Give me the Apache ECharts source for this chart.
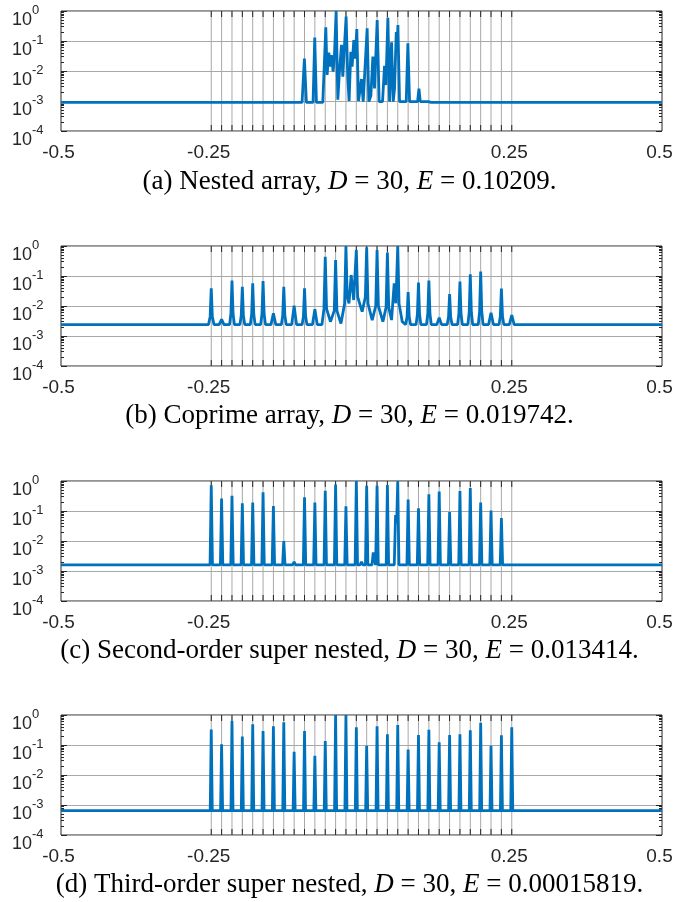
<!DOCTYPE html>
<html><head><meta charset="utf-8">
<script src="https://cdn.jsdelivr.net/npm/echarts@6/dist/echarts.min.js"></script>
<style>html,body{margin:0;padding:0;background:#fff}#c{width:699px;height:902px}</style>
</head><body><div id="c"></div><script>
// ---- data ----
const sourceDoas = [-0.25, -0.23276, -0.21552, -0.19828, -0.18103, -0.16379, -0.14655, -0.12931, -0.11207, -0.09483,
  -0.07759, -0.06034, -0.0431, -0.02586, -0.00862, 0.00862, 0.02586, 0.0431, 0.06034, 0.07759,
  0.09483, 0.11207, 0.12931, 0.14655, 0.16379, 0.18103, 0.19828, 0.21552, 0.23276, 0.25];

const xTickValues = [-0.5, -0.25, 0.25, 0.5];
const xTickLabels = ['-0.5', '-0.25', '0.25', '0.5'];

const panelLetters = ['(a)', '(b)', '(c)', '(d)'];
const arrayNames = ['Nested array', 'Coprime array', 'Second-order super nested', 'Third-order super nested'];
const numSources = [30, 30, 30, 30];
const errorValues = ['0.10209', '0.019742', '0.013414', '0.00015819'];

// (a) Nested array spectrum [theta, P]
const nestedSpectrum = [
  [-0.5,0.0009],[-0.0989,0.0009],[-0.095,0.026],[-0.0917,0.0009],[-0.0806,0.0009],[-0.0778,0.13],[-0.075,0.0009],
  [-0.0644,0.0009],[-0.0594,0.285],[-0.0572,0.0074],[-0.0544,0.041],[-0.0522,0.014],[-0.05,0.034],[-0.0472,0.0095],
  [-0.045,0.034],[-0.0422,1.0],[-0.0394,0.0011],[-0.0367,0.0095],[-0.0333,0.074],[-0.0311,0.0065],[-0.0289,0.044],
  [-0.0256,0.65],[-0.0228,0.0057],[-0.0206,0.001],[-0.0178,0.044],[-0.0156,0.014],[-0.0128,0.108],[-0.0106,0.026],
  [-0.0078,0.25],[-0.005,0.001],[-0.0028,0.00095],[0.0,0.0054],[0.0028,0.00095],[0.0061,0.00095],[0.0094,0.264],
  [0.0122,0.00095],[0.0156,0.0015],[0.0189,0.03],[0.0217,0.0026],[0.0261,0.5],[0.0294,0.00095],[0.035,0.00095],
  [0.0383,0.015],[0.0406,0.0034],[0.0439,0.6],[0.0467,0.00095],[0.05,0.09],[0.0528,0.00095],[0.055,0.0026],
  [0.0578,0.2],[0.0589,0.044],[0.0606,0.34],[0.0633,0.00095],[0.0744,0.00095],[0.0772,0.084],[0.08,0.00095],
  [0.0933,0.00095],[0.0956,0.0026],[0.0978,0.00095],[0.1111,0.00095],[0.1133,0.0011],[0.1156,0.0009],[0.5,0.0009]
];

// (b) Coprime array spectrum
const coprimeSpectrum = [
  [-0.5,0.0024],
  [-0.2545,0.0024],[-0.2518,0.0045],[-0.25,0.039],[-0.2482,0.0045],[-0.2455,0.0024],
  [-0.2368,0.0024],[-0.2328,0.0036],[-0.2288,0.0024],
  [-0.2195,0.0024],[-0.2173,0.0055],[-0.2155,0.07],[-0.2137,0.0055],[-0.2115,0.0024],
  [-0.2023,0.0024],[-0.2001,0.0048],[-0.1983,0.044],[-0.1965,0.0048],[-0.1943,0.0024],
  [-0.185,0.0024],[-0.1828,0.0052],[-0.181,0.057],[-0.1792,0.0052],[-0.177,0.0024],
  [-0.1678,0.0024],[-0.1656,0.0054],[-0.1638,0.068],[-0.162,0.0054],[-0.1598,0.0024],
  [-0.1506,0.0024],[-0.1466,0.0057],[-0.1426,0.0024],
  [-0.1333,0.0024],[-0.1311,0.0048],[-0.1293,0.044],[-0.1275,0.0048],[-0.1253,0.0024],
  [-0.1161,0.0024],[-0.1121,0.0103],[-0.1081,0.0024],
  [-0.0988,0.0024],[-0.0966,0.0046],[-0.0948,0.039],[-0.093,0.0046],[-0.0908,0.0024],
  [-0.0816,0.0024],[-0.0776,0.0078],[-0.0736,0.0024],
  [-0.0658,0.0024],[-0.0625,0.008],[-0.0603,0.44],[-0.0581,0.008],[-0.0517,0.003],
  [-0.0453,0.007],[-0.0431,0.34],[-0.0409,0.007],[-0.0342,0.0026],
  [-0.0281,0.012],[-0.0259,1.0],[-0.0237,0.02],[-0.0208,0.0123],[-0.0172,0.108],[-0.013,0.0158],
  [-0.0086,0.74],[-0.0064,0.02],[0.0011,0.0065],
  [0.0064,0.02],[0.0086,0.9],[0.0108,0.012],[0.0178,0.0034],
  [0.0237,0.01],[0.0259,0.74],[0.0281,0.01],[0.0356,0.003],
  [0.0409,0.009],[0.0431,0.6],[0.0453,0.009],[0.05,0.0034],[0.0544,0.057],[0.0572,0.0123],
  [0.0603,1.0],[0.0625,0.012],[0.0678,0.003],
  [0.0736,0.0024],[0.0758,0.0044],[0.0776,0.029],[0.0794,0.0044],[0.0816,0.0024],
  [0.0908,0.0024],[0.093,0.0053],[0.0948,0.06],[0.0966,0.0053],[0.0988,0.0024],
  [0.1081,0.0024],[0.1103,0.0055],[0.1121,0.07],[0.1139,0.0055],[0.1161,0.0024],
  [0.1253,0.0024],[0.1293,0.0041],[0.1333,0.0024],
  [0.1426,0.0024],[0.1448,0.0043],[0.1466,0.025],[0.1484,0.0043],[0.1506,0.0024],
  [0.1598,0.0024],[0.162,0.0054],[0.1638,0.065],[0.1656,0.0054],[0.1678,0.0024],
  [0.177,0.0024],[0.1792,0.0062],[0.181,0.114],[0.1828,0.0062],[0.185,0.0024],
  [0.1943,0.0024],[0.1965,0.0066],[0.1983,0.14],[0.2001,0.0066],[0.2023,0.0024],
  [0.2115,0.0024],[0.2155,0.006],[0.2195,0.0024],
  [0.2288,0.0024],[0.231,0.0046],[0.2328,0.038],[0.2346,0.0046],[0.2368,0.0024],
  [0.246,0.0024],[0.25,0.005],[0.254,0.0024],
  [0.5,0.0024]
];

// (c) Second-order super nested spectrum
const superNested2Spectrum = [
  [-0.5,0.0016],
  [-0.252,0.0016],[-0.25,0.72],[-0.248,0.0016],
  [-0.2348,0.0016],[-0.2328,0.26],[-0.2308,0.0016],
  [-0.2175,0.0016],[-0.2155,0.32],[-0.2135,0.0016],
  [-0.2003,0.0016],[-0.1983,0.18],[-0.1963,0.0016],
  [-0.183,0.0016],[-0.181,0.19],[-0.179,0.0016],
  [-0.1658,0.0016],[-0.1638,0.42],[-0.1618,0.0016],
  [-0.1486,0.0016],[-0.1466,0.147],[-0.1446,0.0016],
  [-0.1313,0.0016],[-0.1293,0.01],[-0.1273,0.0016],
  [-0.1146,0.0016],[-0.1121,0.002],[-0.1096,0.0016],
  [-0.0968,0.0016],[-0.0948,0.285],[-0.0928,0.0016],
  [-0.0796,0.0016],[-0.0776,0.19],[-0.0756,0.0016],
  [-0.0623,0.0016],[-0.0603,0.47],[-0.0583,0.0016],
  [-0.0451,0.0016],[-0.0431,0.77],[-0.0411,0.0016],
  [-0.0279,0.0016],[-0.0259,0.145],[-0.0239,0.0016],
  [-0.0106,0.0016],[-0.0086,1.0],[-0.0066,0.0016],
  [-0.0025,0.0016],[0.0,0.002],[0.0025,0.0016],
  [0.0066,0.0016],[0.0086,0.7],[0.0106,0.0016],
  [0.0175,0.0016],[0.0195,0.0042],[0.0215,0.0038],[0.0235,0.0016],
  [0.0239,0.0016],[0.0259,0.7],[0.0279,0.0016],
  [0.0411,0.0016],[0.0431,0.74],[0.0451,0.0016],
  [0.0545,0.0016],[0.0567,0.074],[0.0585,0.04],[0.0603,0.98],[0.0623,0.0016],
  [0.0756,0.0016],[0.0776,0.24],[0.0796,0.0016],
  [0.0928,0.0016],[0.0948,0.123],[0.0968,0.0016],
  [0.1101,0.0016],[0.1121,0.36],[0.1141,0.0016],
  [0.1273,0.0016],[0.1293,0.45],[0.1313,0.0016],
  [0.1446,0.0016],[0.1466,0.092],[0.1486,0.0016],
  [0.1618,0.0016],[0.1638,0.46],[0.1658,0.0016],
  [0.179,0.0016],[0.181,0.58],[0.183,0.0016],
  [0.1963,0.0016],[0.1983,0.19],[0.2003,0.0016],
  [0.2135,0.0016],[0.2155,0.104],[0.2175,0.0016],
  [0.2308,0.0016],[0.2328,0.058],[0.2348,0.0016],
  [0.5,0.0016]
];

// (d) Third-order super nested spectrum
const superNested3Spectrum = [
  [-0.5,0.00065],
  [-0.2517,0.00065],[-0.25,0.33],[-0.2483,0.00065],
  [-0.2345,0.00065],[-0.2328,0.105],[-0.2311,0.00065],
  [-0.2172,0.00065],[-0.2155,0.63],[-0.2138,0.00065],
  [-0.2,0.00065],[-0.1983,0.19],[-0.1966,0.00065],
  [-0.1827,0.00065],[-0.181,0.49],[-0.1793,0.00065],
  [-0.1655,0.00065],[-0.1638,0.29],[-0.1621,0.00065],
  [-0.1483,0.00065],[-0.1466,0.42],[-0.1449,0.00065],
  [-0.131,0.00065],[-0.1293,0.57],[-0.1276,0.00065],
  [-0.1138,0.00065],[-0.1121,0.06],[-0.1104,0.00065],
  [-0.0965,0.00065],[-0.0948,0.29],[-0.0931,0.00065],
  [-0.0793,0.00065],[-0.0776,0.044],[-0.0759,0.00065],
  [-0.062,0.00065],[-0.0603,0.136],[-0.0586,0.00065],
  [-0.0448,0.00065],[-0.0431,1.0],[-0.0414,0.00065],
  [-0.0276,0.00065],[-0.0259,1.0],[-0.0242,0.00065],
  [-0.0103,0.00065],[-0.0086,0.39],[-0.0069,0.00065],
  [0.0069,0.00065],[0.0086,0.095],[0.0103,0.00065],
  [0.0242,0.00065],[0.0259,0.42],[0.0276,0.00065],
  [0.0414,0.00065],[0.0431,0.23],[0.0448,0.00065],
  [0.0586,0.00065],[0.0603,0.46],[0.062,0.00065],
  [0.0759,0.00065],[0.0776,0.07],[0.0793,0.00065],
  [0.0931,0.00065],[0.0948,0.215],[0.0965,0.00065],
  [0.1104,0.00065],[0.1121,0.32],[0.1138,0.00065],
  [0.1276,0.00065],[0.1293,0.123],[0.131,0.00065],
  [0.1449,0.00065],[0.1466,0.215],[0.1483,0.00065],
  [0.1621,0.00065],[0.1638,0.227],[0.1655,0.00065],
  [0.1793,0.00065],[0.181,0.31],[0.1827,0.00065],
  [0.1966,0.00065],[0.1983,0.555],[0.2,0.00065],
  [0.2138,0.00065],[0.2155,0.095],[0.2172,0.00065],
  [0.2311,0.00065],[0.2328,0.21],[0.2345,0.00065],
  [0.2483,0.00065],[0.25,0.39],[0.2517,0.00065],
  [0.5,0.00065]
];

const spectra = [nestedSpectrum, coprimeSpectrum, superNested2Spectrum, superNested3Spectrum];
const yMin = 1e-4, yMax = 1;

// ---- layout / style ----
const gridTops = [11, 246, 481, 715];
const captionTops = [163, 397.5, 632, 866.5];
const axisColor = '#262626';
const gridColor = '#a8a8a8';
const lineColor = '#0072BD';
const sansFont = 'Liberation Sans';
const serifFont = 'Liberation Serif';

const option = {
  animation: false,
  backgroundColor: '#ffffff',
  title: [], grid: [], xAxis: [], yAxis: [], series: []
};

function renderSource(params, api) {
  const x = api.value(0);
  const top = api.coord([x, yMax]);
  const bot = api.coord([x, yMin]);
  return {
    type: 'group',
    children: [
      { type: 'line', shape: { x1: top[0], y1: top[1], x2: bot[0], y2: bot[1] }, style: { stroke: gridColor, lineWidth: 1 } },
      { type: 'line', shape: { x1: top[0], y1: top[1], x2: top[0], y2: top[1] + 6 }, style: { stroke: axisColor, lineWidth: 1 } },
      { type: 'line', shape: { x1: bot[0], y1: bot[1] - 6, x2: bot[0], y2: bot[1] }, style: { stroke: axisColor, lineWidth: 1 } }
    ]
  };
}

for (let i = 0; i < 4; i++) {
  option.title.push({
    text: panelLetters[i] + ' ' + arrayNames[i] + ', {i|D} = ' + numSources[i] + ', {i|E} = ' + errorValues[i] + '.',
    left: 'center', top: captionTops[i],
    textStyle: {
      fontFamily: serifFont, fontSize: 27, fontWeight: 'normal', color: '#000',
      rich: { i: { fontFamily: serifFont, fontSize: 27, fontStyle: 'italic', color: '#000' } }
    }
  });
  option.grid.push({
    left: 61, top: gridTops[i], width: 601, height: 120,
    show: true, borderColor: axisColor, borderWidth: 1, backgroundColor: '#fff'
  });
  option.xAxis.push({
    type: 'value', gridIndex: i, min: -0.5, max: 0.5, interval: 0.25,
    axisLine: { show: false, onZero: false }, axisTick: { show: false }, splitLine: { show: false },
    axisLabel: {
      margin: 12, fontFamily: sansFont, fontSize: 19, color: axisColor, padding: [0, 5, 0, 0],
      formatter: function (v) {
        const k = xTickValues.findIndex(t => Math.abs(t - v) < 1e-9);
        return k >= 0 ? xTickLabels[k] : '';
      }
    }
  });
  const yCommon = {
    type: 'log', logBase: 10, gridIndex: i, min: yMin, max: yMax,
    axisLine: { show: false, onZero: false },
    axisTick: { show: true, inside: true, length: 6, lineStyle: { color: axisColor, width: 1 } },
    minorTick: { show: true, splitNumber: 9, length: 3, lineStyle: { color: axisColor, width: 1 } }
  };
  option.yAxis.push(Object.assign({}, yCommon, {
    position: 'left',
    splitLine: { show: true, lineStyle: { color: gridColor, width: 1 } },
    axisLabel: {
      align: 'left', margin: 49, padding: [11, 0, 0, 0],
      formatter: function (v) {
        const e = Math.round(Math.log10(v));
        return '{b|10}{s|' + e + '}';
      },
      rich: {
        b: { fontFamily: sansFont, fontSize: 18, color: axisColor, lineHeight: 26, verticalAlign: 'bottom' },
        s: { fontFamily: sansFont, fontSize: 13, color: axisColor, lineHeight: 13, verticalAlign: 'top' }
      }
    }
  }));
  option.yAxis.push(Object.assign({}, yCommon, {
    position: 'right', splitLine: { show: false }, axisLabel: { show: false }
  }));
  option.series.push({
    type: 'custom', xAxisIndex: i, yAxisIndex: 2 * i, z: 2, silent: true,
    data: sourceDoas.map(v => [v, yMax]),
    encode: { x: 0, y: 1 },
    renderItem: renderSource
  });
  option.series.push({
    type: 'line', xAxisIndex: i, yAxisIndex: 2 * i, z: 3,
    data: spectra[i], showSymbol: false, clip: true,
    lineStyle: { color: lineColor, width: 2.8 }
  });
}

const chart = echarts.init(document.getElementById('c'), null, { renderer: 'canvas' });
chart.setOption(option);
</script></body></html>
